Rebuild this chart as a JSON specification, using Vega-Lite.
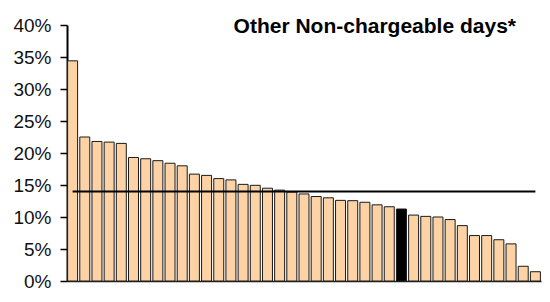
{
  "$schema": "https://vega.github.io/schema/vega-lite/v6.json",
  "width": 474,
  "height": 256,
  "autosize": "none",
  "padding": {"left": 67, "top": 25, "right": 9, "bottom": 21},
  "background": "white",
  "title": {
    "text": "Other Non-chargeable days*",
    "anchor": "end",
    "frame": "group",
    "font": "Liberation Sans",
    "fontSize": 21,
    "fontWeight": "bold",
    "color": "#000000",
    "baseline": "alphabetic",
    "offset": 0,
    "dy": 38,
    "dx": -25
  },
  "config": {
    "view": {"stroke": null},
    "axis": {"labelFont": "Liberation Sans", "titleFont": "Liberation Sans"},
    "axisY": {
      "grid": false,
      "labelOverlap": false,
      "labelFontSize": 19,
      "labelColor": "#111111",
      "labelPadding": 9,
      "tickSize": 7,
      "tickColor": "#000000",
      "tickWidth": 1.5,
      "domainColor": "#000000",
      "domainWidth": 2
    }
  },
  "data": {
    "values": [
      {"unit": "U01", "share": 0.344, "highlight": "no", "average": 0.14},
      {"unit": "U02", "share": 0.225, "highlight": "no", "average": 0.14},
      {"unit": "U03", "share": 0.218, "highlight": "no", "average": 0.14},
      {"unit": "U04", "share": 0.217, "highlight": "no", "average": 0.14},
      {"unit": "U05", "share": 0.215, "highlight": "no", "average": 0.14},
      {"unit": "U06", "share": 0.193, "highlight": "no", "average": 0.14},
      {"unit": "U07", "share": 0.191, "highlight": "no", "average": 0.14},
      {"unit": "U08", "share": 0.188, "highlight": "no", "average": 0.14},
      {"unit": "U09", "share": 0.184, "highlight": "no", "average": 0.14},
      {"unit": "U10", "share": 0.180, "highlight": "no", "average": 0.14},
      {"unit": "U11", "share": 0.167, "highlight": "no", "average": 0.14},
      {"unit": "U12", "share": 0.165, "highlight": "no", "average": 0.14},
      {"unit": "U13", "share": 0.160, "highlight": "no", "average": 0.14},
      {"unit": "U14", "share": 0.158, "highlight": "no", "average": 0.14},
      {"unit": "U15", "share": 0.151, "highlight": "no", "average": 0.14},
      {"unit": "U16", "share": 0.1495, "highlight": "no", "average": 0.14},
      {"unit": "U17", "share": 0.145, "highlight": "no", "average": 0.14},
      {"unit": "U18", "share": 0.142, "highlight": "no", "average": 0.14},
      {"unit": "U19", "share": 0.139, "highlight": "no", "average": 0.14},
      {"unit": "U20", "share": 0.136, "highlight": "no", "average": 0.14},
      {"unit": "U21", "share": 0.132, "highlight": "no", "average": 0.14},
      {"unit": "U22", "share": 0.130, "highlight": "no", "average": 0.14},
      {"unit": "U23", "share": 0.126, "highlight": "no", "average": 0.14},
      {"unit": "U24", "share": 0.1255, "highlight": "no", "average": 0.14},
      {"unit": "U25", "share": 0.123, "highlight": "no", "average": 0.14},
      {"unit": "U26", "share": 0.119, "highlight": "no", "average": 0.14},
      {"unit": "U27", "share": 0.116, "highlight": "no", "average": 0.14},
      {"unit": "U28", "share": 0.1125, "highlight": "yes", "average": 0.14},
      {"unit": "U29", "share": 0.103, "highlight": "no", "average": 0.14},
      {"unit": "U30", "share": 0.101, "highlight": "no", "average": 0.14},
      {"unit": "U31", "share": 0.100, "highlight": "no", "average": 0.14},
      {"unit": "U32", "share": 0.096, "highlight": "no", "average": 0.14},
      {"unit": "U33", "share": 0.0865, "highlight": "no", "average": 0.14},
      {"unit": "U34", "share": 0.071, "highlight": "no", "average": 0.14},
      {"unit": "U35", "share": 0.071, "highlight": "no", "average": 0.14},
      {"unit": "U36", "share": 0.0645, "highlight": "no", "average": 0.14},
      {"unit": "U37", "share": 0.058, "highlight": "no", "average": 0.14},
      {"unit": "U38", "share": 0.023, "highlight": "no", "average": 0.14},
      {"unit": "U39", "share": 0.0145, "highlight": "no", "average": 0.14}
    ]
  },
  "encoding": {
    "x": {
      "field": "unit",
      "type": "nominal",
      "sort": null,
      "scale": {"paddingInner": 0.18, "paddingOuter": 0.05},
      "axis": {
        "title": null,
        "labels": false,
        "ticks": false,
        "domainColor": "#222222",
        "domainWidth": 1.5
      }
    }
  },
  "layer": [
    {
      "mark": {"type": "bar", "stroke": "#1a1a1a", "strokeWidth": 1},
      "encoding": {
        "y": {
          "field": "share",
          "type": "quantitative",
          "scale": {"domain": [0, 0.4], "nice": false},
          "axis": {
            "title": null,
            "values": [0, 0.05, 0.1, 0.15, 0.2, 0.25, 0.3, 0.35, 0.4],
            "format": ".0%"
          }
        },
        "fill": {
          "field": "highlight",
          "type": "nominal",
          "scale": {"domain": ["no", "yes"], "range": ["#FDD3A6", "#000000"]},
          "legend": null
        }
      }
    },
    {
      "mark": {"type": "line", "color": "#000000", "strokeWidth": 2},
      "encoding": {
        "y": {
          "field": "average",
          "type": "quantitative",
          "axis": {
            "title": null,
            "values": [0, 0.05, 0.1, 0.15, 0.2, 0.25, 0.3, 0.35, 0.4],
            "format": ".0%"
          }
        }
      }
    }
  ]
}
